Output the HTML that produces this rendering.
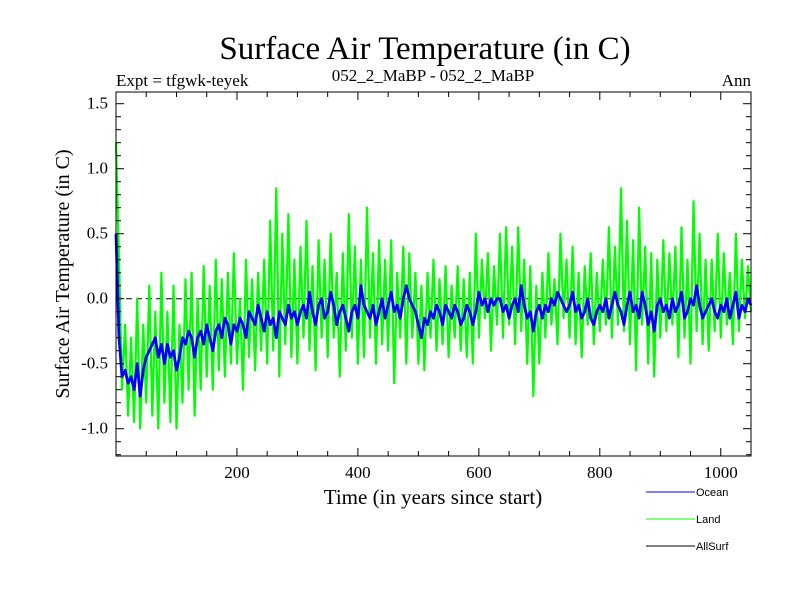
<!DOCTYPE html>
<html><head><meta charset="utf-8"><style>
body{margin:0;background:#fff}
svg{display:block}
text{font-family:"Liberation Serif",serif;fill:#000}
.lg{font-family:"Liberation Sans",sans-serif;font-size:11px}
</style></head><body>
<svg id="chart" width="800" height="600">
<text x="425" y="59" font-size="33" text-anchor="middle">Surface Air Temperature (in C)</text>
<text x="116" y="86" font-size="17">Expt = tfgwk-teyek</text>
<text x="433" y="81" font-size="17" text-anchor="middle">052_2_MaBP - 052_2_MaBP</text>
<text x="751" y="86" font-size="17" text-anchor="end">Ann</text>
<text transform="translate(69,274) rotate(-90)" font-size="20" text-anchor="middle">Surface Air Temperature (in C)</text>
<text x="433" y="504" font-size="21" text-anchor="middle">Time (in years since start)</text>
<g id="plot"></g>
<g>
<line x1="646" y1="492" x2="695" y2="492" stroke="#0000ff"/>
<text x="696" y="496" class="lg">Ocean</text>
<line x1="646" y1="519" x2="695" y2="519" stroke="#00ff00"/>
<text x="696" y="523" class="lg">Land</text>
<line x1="646" y1="546" x2="695" y2="546" stroke="#000"/>
<text x="696" y="550" class="lg">AllSurf</text>
</g>
</svg>
<script>
const yearStep = 5;
const xTicks = [200, 400, 600, 800, 1000];
const yTicks = [-1.0, -0.5, 0.0, 0.5, 1.0, 1.5];
const ocean = [0.5,-0.3,-0.6,-0.55,-0.65,-0.6,-0.7,-0.5,-0.75,-0.55,-0.45,
-0.4,-0.35,-0.3,-0.45,-0.35,-0.5,-0.35,-0.45,-0.4,-0.55,
-0.45,-0.3,-0.35,-0.25,-0.3,-0.45,-0.3,-0.25,-0.35,-0.2,-0.3,-0.4,-0.25,-0.2,-0.3,-0.15,-0.2,-0.35,-0.2,-0.25,
-0.15,-0.2,-0.3,-0.1,-0.15,-0.2,-0.05,-0.15,-0.25,-0.1,-0.2,-0.15,-0.3,-0.1,-0.15,-0.2,-0.05,-0.15,-0.1,-0.2,
-0.1,-0.05,-0.15,0.05,-0.1,-0.2,-0.05,0.0,-0.15,-0.1,0.05,-0.05,-0.2,-0.1,-0.05,-0.15,-0.25,-0.1,-0.05,-0.15,
0.1,-0.05,-0.1,-0.15,-0.05,-0.2,-0.1,0.0,-0.15,-0.05,0.05,-0.1,-0.05,-0.15,0.0,0.1,0.0,-0.05,-0.1,-0.2,
-0.3,-0.15,-0.2,-0.1,-0.15,-0.05,-0.1,-0.2,-0.05,-0.1,-0.15,-0.05,-0.1,-0.2,-0.15,-0.05,-0.1,-0.2,-0.1,0.05,
-0.05,0.0,-0.1,0.0,-0.05,0.0,0.0,-0.1,-0.05,-0.15,-0.05,0.0,-0.1,0.1,-0.05,-0.15,-0.1,-0.25,-0.1,-0.05,
-0.15,-0.05,-0.1,0.0,-0.05,0.05,0.0,-0.05,-0.1,-0.05,0.05,-0.1,-0.05,-0.15,-0.1,0.0,-0.15,-0.2,-0.1,-0.05,
-0.1,0.0,-0.15,-0.05,0.05,-0.05,-0.1,-0.2,-0.05,0.05,-0.1,-0.05,-0.15,0.05,-0.05,-0.2,-0.1,-0.25,-0.05,0.0,
-0.1,-0.05,-0.15,0.0,-0.1,-0.05,0.05,-0.15,-0.1,0.0,-0.05,0.1,-0.05,-0.15,-0.1,-0.05,0.0,-0.1,-0.15,-0.05,
-0.1,0.0,-0.15,-0.05,0.05,-0.15,-0.05,-0.1,0.0,-0.05];
const land = [1.2,0.3,-0.7,-0.2,-0.9,-0.3,-0.95,0.0,-1.0,-0.2,-0.8,
0.1,-0.9,-0.1,-1.0,0.2,-0.8,-0.1,-0.95,0.1,-1.0,
-0.2,-0.8,0.15,-0.7,0.2,-0.9,0.0,-0.7,0.25,-0.6,0.1,-0.7,0.3,-0.55,0.15,-0.6,0.2,-0.5,0.35,-0.5,
0.0,-0.7,0.3,-0.45,0.15,-0.55,0.2,-0.4,0.3,-0.5,0.6,-0.4,0.85,-0.6,0.5,-0.35,0.65,-0.45,0.3,-0.5,
0.4,-0.3,0.6,-0.4,0.25,-0.55,0.45,-0.3,0.3,-0.45,0.5,-0.3,0.2,-0.6,0.35,-0.4,0.65,-0.3,0.4,-0.5,
0.3,-0.45,0.7,-0.3,0.35,-0.5,0.45,-0.35,0.3,-0.4,0.45,-0.65,0.2,-0.3,0.4,-0.5,0.35,-0.3,0.2,-0.5,
0.1,-0.55,0.2,-0.3,0.3,-0.4,0.15,-0.35,0.25,-0.45,0.1,-0.3,0.25,-0.4,0.15,-0.45,0.2,-0.5,0.5,-0.3,
0.3,-0.15,0.35,-0.4,0.25,-0.2,0.5,-0.3,0.55,-0.2,0.4,-0.35,0.55,-0.25,0.3,-0.5,0.25,-0.75,0.1,-0.5,
0.2,-0.3,0.35,-0.2,0.15,-0.35,0.5,-0.15,0.3,-0.3,0.4,-0.35,0.2,-0.45,0.25,-0.2,0.35,-0.35,0.2,-0.25,
0.3,-0.2,0.55,-0.3,0.4,-0.2,0.85,-0.25,0.6,-0.35,0.45,-0.55,0.7,-0.2,0.4,-0.5,0.35,-0.6,0.3,-0.3,
0.45,-0.25,0.35,-0.2,0.4,-0.45,0.55,-0.3,0.3,-0.5,0.75,-0.25,0.5,-0.35,0.3,-0.4,0.3,-0.25,0.5,-0.3,
0.35,-0.2,0.2,-0.35,0.5,-0.25,0.3,-0.15,0.25,-0.1];

const L=116,R=751,T=92,B=456, X0=0,X1=1050, Y0=-1.21,Y1=1.59;
const xs=v=>L+(v-X0)/(X1-X0)*(R-L);
const ys=v=>B-(v-Y0)/(Y1-Y0)*(B-T);
const NS="http://www.w3.org/2000/svg";
const g=document.getElementById('plot');
function mk(tag,attrs){const e=document.createElementNS(NS,tag);for(const k in attrs)e.setAttribute(k,attrs[k]);g.appendChild(e);return e;}

const z=mk('line',{x1:L,x2:R,y1:ys(0),y2:ys(0),stroke:'#000','stroke-dasharray':'6,4','stroke-width':1});



function series(arr,color,w,name){
  const pts=arr.map((v,i)=>xs(i*yearStep).toFixed(1)+','+ys(v).toFixed(1)).join(' ');
  const p=mk('polyline',{points:pts,fill:'none',stroke:color,'stroke-width':w,'stroke-linejoin':'round'});
  
  
}
series(land,'#00ff00',2.2,'land-series');
series(ocean,'#0000ff',2.8,'ocean-series');

const f=mk('rect',{x:L,y:T,width:R-L,height:B-T,fill:'none',stroke:'#000','stroke-width':1});



for(let v=50;v<X1;v+=50){
  const big=v%200===0, len=big?8:5;
  mk('line',{x1:xs(v),x2:xs(v),y1:B,y2:B-len,stroke:'#000'});
  mk('line',{x1:xs(v),x2:xs(v),y1:T,y2:T+len,stroke:'#000'});
}
xTicks.forEach(v=>{
  const t=mk('text',{x:xs(v),y:B+22,'font-size':17,'text-anchor':'middle'});
  t.textContent=String(v);
  
  
});
for(let k=-12;k<=15;k++){
  const v=k/10, big=(k%5===0), len=big?8:5;
  mk('line',{x1:L,x2:L+len,y1:ys(v),y2:ys(v),stroke:'#000'});
  mk('line',{x1:R,x2:R-len,y1:ys(v),y2:ys(v),stroke:'#000'});
}
yTicks.forEach(v=>{
  const t=mk('text',{x:L-8,y:ys(v)+5,'font-size':17,'text-anchor':'end'});
  t.textContent=v.toFixed(1);
  
  
});
</script>
</body></html>
